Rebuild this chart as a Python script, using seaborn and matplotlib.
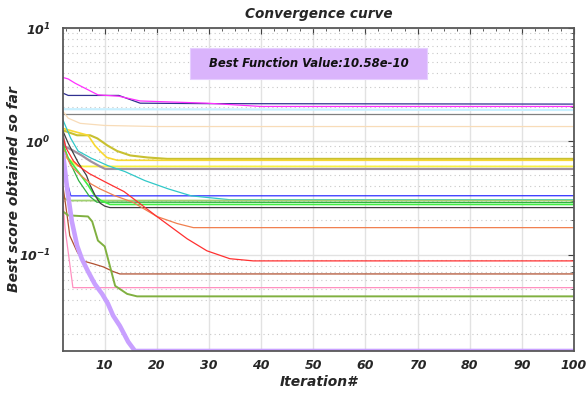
import numpy as np
import pandas as pd
import matplotlib
matplotlib.use("Agg")
import matplotlib.pyplot as plt
import matplotlib.ticker as mticker
from matplotlib.patches import Rectangle
import seaborn as sns

# convergence runs: (iterations, best score)
runs = {
    "navy":    ([2, 3, 12.7, 16.8, 30, 100], [2.66, 2.54, 2.54, 2.17, 2.15, 2.13]),
    "magenta": ([2, 3, 4.3, 8.7, 12.7, 16.8, 29.6, 40, 100], [3.66, 3.55, 3.26, 2.57, 2.50, 2.27, 2.17, 2.03, 2.03]),
    "ltcyan":  ([2, 100], [1.92, 1.89]),
    "gray":    ([2, 100], [1.73, 1.73]),
    "peach":   ([2, 3, 5.3, 10, 20, 100], [1.84, 1.6, 1.44, 1.38, 1.35, 1.35]),
    "khaki":   ([2, 4.7, 7.2, 8.6, 10.5, 12.4, 14.9, 18.2, 22, 100], [1.25, 1.13, 1.13, 1.06, 0.92, 0.82, 0.75, 0.72, 0.70, 0.70]),
    "gold":    ([2, 3.3, 5.3, 6.8, 8.1, 9.1, 10.4, 12.4, 100], [1.30, 1.25, 1.18, 1.13, 0.92, 0.82, 0.72, 0.68, 0.68]),
    "yellow":  ([2, 3.7, 4.7, 6, 100], [0.75, 0.665, 0.61, 0.60, 0.60]),
    "mauve":   ([2, 2.4, 3.9, 5.6, 7.2, 9.1, 10.1, 100], [1.13, 0.90, 0.83, 0.75, 0.67, 0.60, 0.57, 0.57]),
    "blue":    ([2, 2.7, 3.5, 100], [0.6, 0.45, 0.33, 0.331]),
    "cyan":    ([2, 3.5, 4.9, 7.4, 10.6, 13.9, 17.7, 22.2, 26.6, 34, 100], [1.54, 1.06, 0.82, 0.71, 0.61, 0.54, 0.45, 0.38, 0.33, 0.305, 0.305]),
    "ltgreen": ([2, 3, 100], [0.32, 0.30, 0.30]),
    "green":   ([2, 3, 5, 7, 8.5, 100], [0.95, 0.7, 0.45, 0.33, 0.29, 0.288]),
    "lime":    ([2, 3, 4.9, 6.8, 8.1, 9.3, 11, 100], [0.92, 0.71, 0.54, 0.41, 0.33, 0.30, 0.277, 0.277]),
    "black":   ([2, 3, 4.9, 6.5, 7.2, 8.2, 9.1, 10, 11, 100], [1.23, 0.96, 0.65, 0.50, 0.41, 0.33, 0.285, 0.268, 0.26, 0.26]),
    "salmon":  ([2, 3.5, 5.4, 7.4, 9.1, 12, 15.4, 20, 23.9, 27, 100], [0.87, 0.61, 0.50, 0.42, 0.38, 0.33, 0.29, 0.217, 0.188, 0.173, 0.173]),
    "red":     ([2, 2.6, 4, 5.1, 7, 10, 13.7, 16.4, 20, 25.8, 29.6, 34, 38.5, 100], [1.1, 0.87, 0.67, 0.60, 0.52, 0.44, 0.36, 0.29, 0.217, 0.138, 0.108, 0.092, 0.088, 0.088]),
    "brown":   ([2, 2.8, 3.3, 4.7, 5.8, 7.8, 9.7, 11.6, 12.9, 100], [0.40, 0.22, 0.147, 0.106, 0.088, 0.083, 0.078, 0.071, 0.0675, 0.0675]),
    "pink":    ([2, 2.4, 3.9, 100], [0.30, 0.17, 0.0511, 0.0511]),
    "olive":   ([2, 3, 6.8, 7.6, 8.7, 10, 12, 14.3, 16.2, 100], [0.24, 0.222, 0.217, 0.196, 0.133, 0.118, 0.053, 0.045, 0.0428, 0.0428]),
    "purple":  ([2, 2.8, 3.7, 4.7, 5.6, 6.8, 8.1, 9.5, 10.6, 11.6, 12.9, 14.5, 15.8, 100],
                [0.78, 0.38, 0.196, 0.12, 0.092, 0.071, 0.055, 0.045, 0.037, 0.029, 0.0235, 0.017, 0.0141, 0.0141]),
}

colors = {
    "navy": "#303090", "magenta": "#ff30ff", "ltcyan": "#c8f0ff", "gray": "#808080",
    "peach": "#f8dcb8", "khaki": "#c8c030", "gold": "#f8d830", "yellow": "#f8f040",
    "mauve": "#a090a0", "blue": "#3030ff", "cyan": "#30c8c8", "ltgreen": "#a0d070",
    "green": "#30b040", "lime": "#40f040", "black": "#404040", "salmon": "#f08050",
    "red": "#ff3030", "brown": "#b05030", "pink": "#ff90c0", "olive": "#80b040",
    "purple": "#c8a0ff",
}
widths = {"ltcyan": 1.6, "mauve": 1.6, "khaki": 1.5, "gold": 1.2, "yellow": 1.3,
          "olive": 1.4, "purple": 3.3, "lime": 1.2, "ltgreen": 1.3}

best_text = "Best Function Value:10.58e-10"

rows = []
for name, (it, val) in runs.items():
    for a, b in zip(it, val):
        rows.append((name, a, b))
df = pd.DataFrame(rows, columns=["run", "iter", "score"])

sns.set_style("white")
plt.rcParams["font.family"] = ["DejaVu Sans"]
plt.rcParams["font.weight"] = "bold"
plt.rcParams["font.style"] = "italic"
plt.rcParams["mathtext.fontset"] = "custom"
plt.rcParams["mathtext.it"] = "DejaVu Sans:italic:bold"
plt.rcParams["mathtext.rm"] = "DejaVu Sans:italic:bold"
plt.rcParams["mathtext.default"] = "it"

fig = plt.figure(figsize=(5.86, 3.98), dpi=100)
ax = fig.add_axes([63 / 586, 1 - 351 / 398, 511 / 586, 323 / 398])

for name in runs:
    sub = df[df.run == name]
    sns.lineplot(data=sub, x="iter", y="score", color=colors[name],
                 lw=widths.get(name, 0.9), ax=ax, legend=False, sort=False)

ax.set_yscale("log")
ax.set_xlim(2, 100)
ax.set_ylim(0.0141, 10)
ax.xaxis.set_major_locator(mticker.MultipleLocator(10))
ax.xaxis.set_minor_locator(mticker.MultipleLocator(2.5))
ax.yaxis.set_major_locator(mticker.LogLocator(base=10, numticks=10))
ax.yaxis.set_minor_locator(mticker.LogLocator(base=10, subs=np.arange(2, 10), numticks=20))
ax.yaxis.set_minor_formatter(mticker.NullFormatter())

ax.grid(which="major", color="#e2e2e2", lw=1.0, ls="-")
ax.grid(which="minor", axis="y", color="#c8c8c8", lw=0.8, ls=(0, (1, 3)))
ax.set_axisbelow(True)

ax.tick_params(which="both", direction="in", top=True, right=True, color="#404040")
ax.tick_params(which="major", length=4, width=0.8, labelsize=9, labelcolor="#262626")
ax.tick_params(axis="x", which="major", pad=6)
ax.tick_params(axis="y", which="major", pad=9)
ax.tick_params(which="minor", length=2.5, width=0.6)
for sp in ax.spines.values():
    sp.set_color("#585858")
    sp.set_linewidth(1.3)

ax.set_title("Convergence curve", fontsize=9.8, fontweight="bold", fontstyle="italic", pad=7)
ax.set_xlabel("Iteration#", fontsize=10, fontweight="bold", fontstyle="italic", va="top")
ax.xaxis.set_label_coords(0.5, -0.074)
ax.set_ylabel("Best score obtained so far", fontsize=10, fontweight="bold", fontstyle="italic")
ax.yaxis.set_label_coords(-0.083, 0.5)

ax.add_patch(Rectangle((127 / 511, 272 / 323), 237 / 511, 31 / 323, transform=ax.transAxes,
                       facecolor="#dab4fc", edgecolor="#e6cfff", lw=0.8, zorder=5))
ax.text(245.5 / 511, 287.5 / 323, best_text, transform=ax.transAxes, ha="center", va="center",
        fontsize=8.4, fontweight="bold", fontstyle="italic", color="#111111", zorder=6)

fig.savefig("out.png", dpi=100)
